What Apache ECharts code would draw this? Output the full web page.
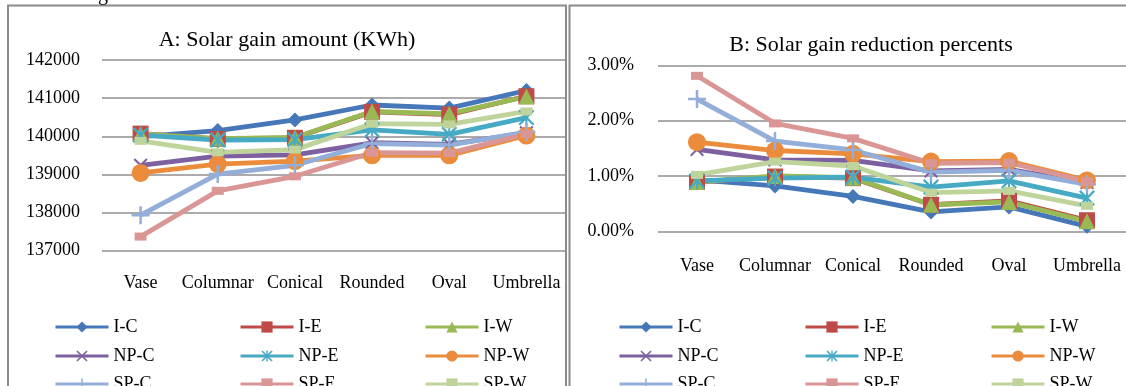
<!DOCTYPE html>
<html><head><meta charset="utf-8">
<script src="https://cdn.jsdelivr.net/npm/echarts@6/dist/echarts.min.js"></script>
<style>html,body{margin:0;padding:0;background:#fff}#c{width:1126px;height:386px}</style>
</head><body><div id="c"></div>
<script>
const categories = ['Vase','Columnar','Conical','Rounded','Oval','Umbrella'];
const seriesNames = ['I-C','I-E','I-W','NP-C','NP-E','NP-W','SP-C','SP-E','SP-W'];
// Panel A: Solar gain amount (KWh)
const aIC  = [139990, 140150, 140430, 140820, 140740, 141200];
const aIE  = [140070, 139930, 139960, 140640, 140570, 141050];
const aIW  = [140060, 139940, 139970, 140650, 140590, 141040];
const aNPC = [139240, 139480, 139510, 139830, 139790, 140090];
const aNPE = [140030, 139900, 139910, 140170, 140050, 140490];
const aNPW = [139040, 139270, 139350, 139500, 139500, 140020];
const aSPC = [137930, 139010, 139240, 139810, 139770, 140110];
const aSPE = [137370, 138570, 138950, 139570, 139560, 140060];
const aSPW = [139880, 139580, 139650, 140330, 140310, 140650];
// Panel B: Solar gain reduction percents (%)
const bIC  = [0.93, 0.82, 0.63, 0.35, 0.44, 0.09];
const bIE  = [0.89, 0.99, 0.96, 0.48, 0.55, 0.20];
const bIW  = [0.89, 1.00, 0.97, 0.48, 0.53, 0.18];
const bNPC = [1.48, 1.29, 1.28, 1.09, 1.12, 0.88];
const bNPE = [0.91, 0.96, 0.98, 0.80, 0.91, 0.60];
const bNPW = [1.61, 1.46, 1.40, 1.26, 1.27, 0.92];
const bSPC = [2.39, 1.63, 1.47, 1.07, 1.10, 0.85];
const bSPE = [2.81, 1.95, 1.68, 1.23, 1.24, 0.90];
const bSPW = [1.02, 1.26, 1.18, 0.70, 0.73, 0.46];
const aTicks = [137000, 142000, 1000];
const bTicks = [0, 3, 1];

const dataA = [aIC,aIE,aIW,aNPC,aNPE,aNPW,aSPC,aSPE,aSPW];
const dataB = [bIC,bIE,bIW,bNPC,bNPE,bNPW,bSPC,bSPE,bSPW];

const FONT = '"Liberation Serif","Times New Roman",serif';
const X_PATH = 'path://M0,1 L1,0 L10,9 L9,10 Z M9,0 L10,1 L1,10 L0,9 Z';
const AST_PATH = 'path://M0,1 L1,0 L10,9 L9,10 Z M9,0 L10,1 L1,10 L0,9 Z M4.4,0 L5.6,0 L5.6,10 L4.4,10 Z';
const PLUS_PATH = 'path://M4.3,0 L5.7,0 L5.7,4.3 L10,4.3 L10,5.7 L5.7,5.7 L5.7,10 L4.3,10 L4.3,5.7 L0,5.7 L0,4.3 L4.3,4.3 Z';
const styles = [
  {color:'#4677B8', symbol:'diamond', size:15},
  {color:'#BE4B48', symbol:'rect', size:16},
  {color:'#98B954', symbol:'triangle', size:16},
  {color:'#7D60A0', symbol:X_PATH, size:14},
  {color:'#46AAC5', symbol:AST_PATH, size:16},
  {color:'#EB8C3C', symbol:'circle', size:18},
  {color:'#93AED9', symbol:PLUS_PATH, size:18},
  {color:'#D99694', symbol:'rect', size:[12,8]},
  {color:'#BFD49A', symbol:'rect', size:[12,8]}
];

function mkSeries(dataArr, idx){
  return dataArr.map((d,i)=>({
    name: seriesNames[i], type:'line', xAxisIndex: idx, yAxisIndex: idx,
    data: d, symbol: styles[i].symbol, symbolSize: styles[i].size, showAllSymbol:true,
    lineStyle:{color:styles[i].color, width:4.8},
    itemStyle:{color:styles[i].color},
    emphasis:{disabled:true}
  }));
}

const legendCols = [54, 239, 424, 618, 804, 990];
const legendRows = [325, 354, 382];
const legends = [];
legendCols.forEach((l,k)=>{
  legendRows.forEach((r,j)=>{
    legends.push({
      orient:'horizontal', left:l, top:r-7, data:[seriesNames[j*3 + (k%3)]],
      itemWidth:53, itemHeight:14, selectedMode:false, padding:0,
      lineStyle:{width:3},
      textStyle:{fontFamily:FONT, fontSize:18, color:'#000', lineHeight:14}
    });
  });
});

const axisLabel = {fontFamily:FONT, fontSize:18, color:'#000', interval:0};
const chart = echarts.init(document.getElementById('c'), null, {renderer:'canvas'});
chart.setOption({
  animation:false,
  backgroundColor:'#fff',
  grid:[
    {left:102, right:561, top:60, height:190.7, containLabel:false},
    {left:658, right:-2, top:65.3, height:166, containLabel:false}
  ],
  xAxis:[
    {type:'category', gridIndex:0, data:categories, boundaryGap:true,
     axisLine:{show:false}, axisTick:{show:false}, axisLabel:Object.assign({margin:24}, axisLabel)},
    {type:'category', gridIndex:1, data:categories, boundaryGap:true,
     axisLine:{show:false}, axisTick:{show:false}, axisLabel:Object.assign({margin:26}, axisLabel)}
  ],
  yAxis:[
    {type:'value', gridIndex:0, min:aTicks[0], max:aTicks[1], interval:aTicks[2],
     axisLine:{show:false}, axisTick:{show:false},
     splitLine:{lineStyle:{color:'#8f8f8f', width:1.5}},
     axisLabel:Object.assign({margin:22, formatter:v=>String(v)}, axisLabel)},
    {type:'value', gridIndex:1, min:bTicks[0], max:bTicks[1], interval:bTicks[2],
     axisLine:{show:false}, axisTick:{show:false},
     splitLine:{lineStyle:{color:'#8f8f8f', width:1.5}},
     axisLabel:Object.assign({margin:24, formatter:v=>v.toFixed(2)+'%'}, axisLabel)}
  ],
  legend: legends,
  graphic:[
    {type:'rect', shape:{x:8, y:5.5, width:558, height:420}, style:{fill:'none', stroke:'#8a8a8a', lineWidth:2}, silent:true},
    {type:'rect', shape:{x:569.5, y:5.5, width:600, height:420}, style:{fill:'none', stroke:'#8a8a8a', lineWidth:2}, silent:true},
    {type:'text', style:{text:'A: Solar gain amount (KWh)', x:287, y:40, align:'center', verticalAlign:'middle', font:'22px '+FONT, fill:'#000'}, silent:true},
    {type:'text', style:{text:'B: Solar gain reduction percents', x:871, y:45, align:'center', verticalAlign:'middle', font:'22px '+FONT, fill:'#000'}, silent:true},
    {type:'text', style:{text:'g', x:98, y:-15, align:'left', verticalAlign:'top', font:'20px '+FONT, fill:'#000'}, silent:true}
  ],
  series: mkSeries(dataA,0).concat(mkSeries(dataB,1))
});
</script></body></html>
